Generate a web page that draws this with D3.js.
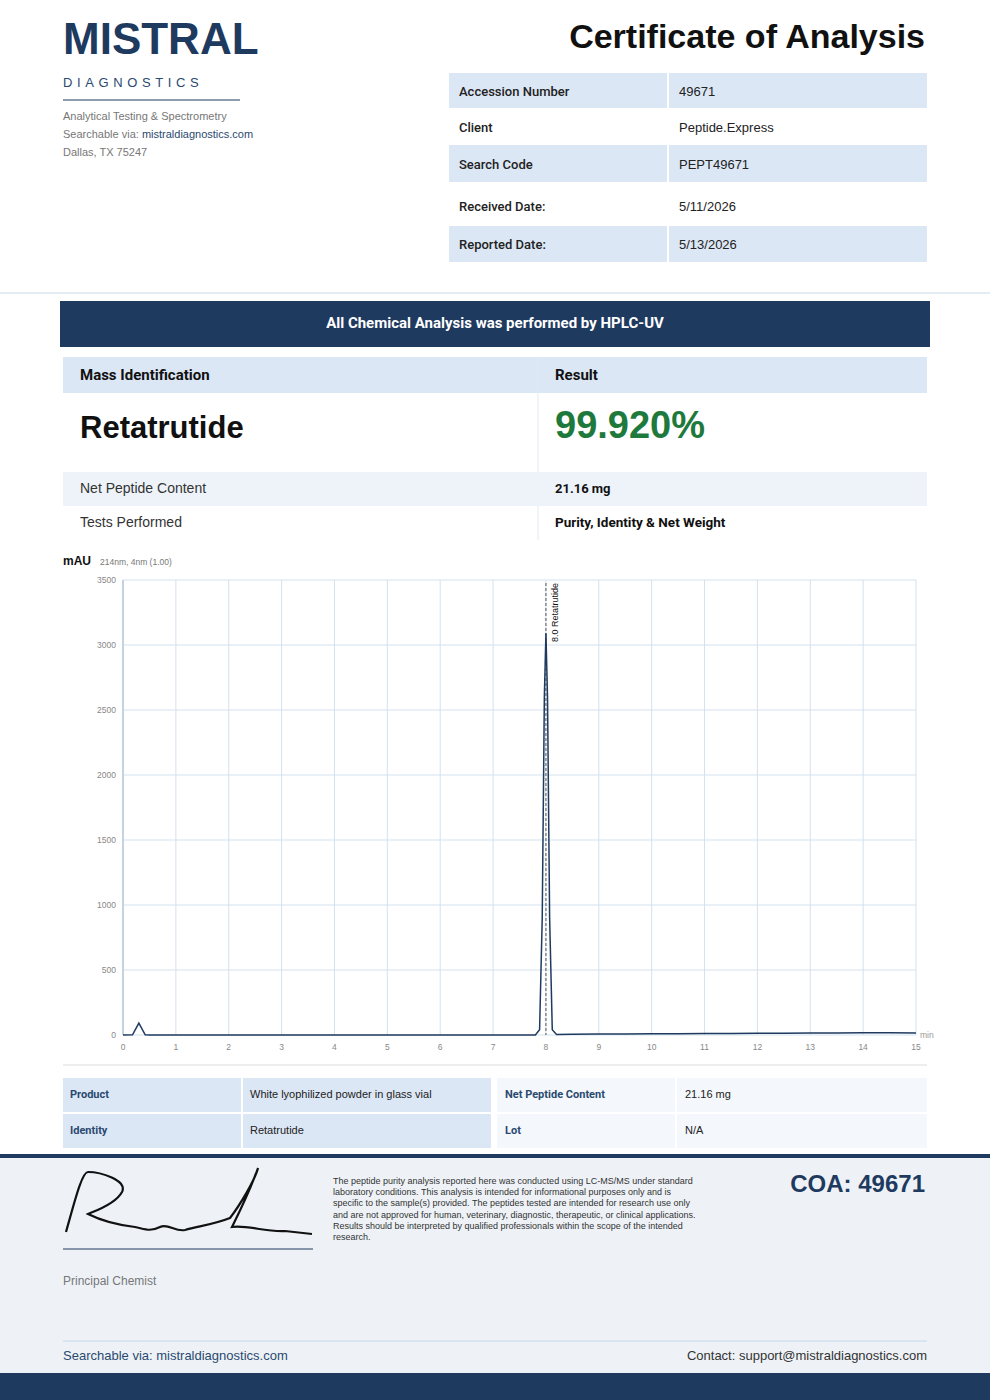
<!DOCTYPE html>
<html><head><meta charset="utf-8">
<script src="https://cdn.jsdelivr.net/npm/d3@7"></script>
<style>
body{margin:0;width:990px;height:1400px;background:#fff;font-family:"Liberation Sans",Arial,sans-serif;position:relative;overflow:hidden}
</style></head><body>
<svg id="svg" width="990" height="1400" style="position:absolute;left:0;top:0"></svg>
<script>
const xTicks=[0,1,2,3,4,5,6,7,8,9,10,11,12,13,14,15];
const yTicks=[0,500,1000,1500,2000,2500,3000,3500];
const times=[0,0.18,0.3,0.42,0.5,1,2,3,4,5,6,7,7.8,7.88,7.93,7.97,8.0,8.03,8.07,8.12,8.2,8.5,9,9.5,10,10.5,11,11.5,12,12.5,13,13.5,14,14.5,15];
const signal=[0,2,92,2,0,0,0,0,0,0,0,0,0,40,900,2600,3090,2600,900,40,4,6,7,8,9,10,11,12,13,14,15,16,17,17,16];
const peakLabel="8.0 Retatrutide";
const headerRows=[["Accession Number","49671"],["Client","Peptide.Express"],["Search Code","PEPT49671"],["Received Date:","5/11/2026"],["Reported Date:","5/13/2026"]];
const infoRows=[["Product","White lyophilized powder in glass vial","Net Peptide Content","21.16 mg"],["Identity","Retatrutide","Lot","N/A"]];

const svg=d3.select("#svg");
const navy="#1f3a5f", shade="#dce7f5";
function T(x,y,t,o={}){const e=svg.append("text").attr("x",x).attr("y",y).text(t)
 .attr("font-size",o.s||12).attr("fill",o.c||"#222").attr("font-weight",o.w||"normal")
 .attr("text-anchor",o.a||"start").attr("font-family",o.f||"Roboto, sans-serif");
 if(o.ls)e.attr("letter-spacing",o.ls);return e;}
function R(x,y,w,h,f){svg.append("rect").attr("x",x).attr("y",y).attr("width",w).attr("height",h).attr("fill",f);}
const A="Liberation Sans, Arial, sans-serif";
T(63,54,"MISTRAL",{s:44,w:"bold",c:navy,f:A});
T(63,87,"DIAGNOSTICS",{s:13,c:"#2a4a70",ls:4.6,f:A});
svg.append("line").attr("x1",63).attr("x2",240).attr("y1",100).attr("y2",100).attr("stroke",navy);
T(63,120,"Analytical Testing & Spectrometry",{s:11,c:"#777",f:A});
const sv=T(63,138,"Searchable via: ",{s:11,c:"#777",f:A});sv.append("tspan").attr("fill","#2a4a70").text("mistraldiagnostics.com");
T(63,156,"Dallas, TX 75247",{s:11,c:"#777",f:A});
T(925,48,"Certificate of Analysis",{s:34,w:"bold",c:"#111",a:"end",f:A});
const hy=[73,108,145,188,226],hh=[35,37,37,36,36];
headerRows.forEach((r,i)=>{ if(i%2==0)R(449,hy[i],478,hh[i],shade);
 svg.append("line").attr("x1",668).attr("x2",668).attr("y1",hy[i]).attr("y2",hy[i]+hh[i]).attr("stroke","#fff").attr("stroke-width",2);
 T(459,hy[i]+hh[i]/2+5,r[0],{s:13,w:500,c:"#222"});T(679,hy[i]+hh[i]/2+5,r[1],{s:13,c:"#222",f:A});});
svg.append("line").attr("x1",0).attr("x2",990).attr("y1",293).attr("y2",293).attr("stroke","#c8d8ea");
R(60,301,870,46,navy);T(495,328,"All Chemical Analysis was performed by HPLC-UV",{s:15,w:"bold",c:"#fff",a:"middle"});
R(63,357,864,36,shade);svg.append("line").attr("x1",538).attr("x2",538).attr("y1",357).attr("y2",540).attr("stroke","#e2e8f0");
T(80,380,"Mass Identification",{s:15,w:"bold",c:"#111"});T(555,380,"Result",{s:15,w:"bold",c:"#111"});
T(80,438,"Retatrutide",{s:31,w:"bold",c:"#111",f:A});T(555,438,"99.920%",{s:38,w:"bold",c:"#1e7a3c",f:A});
R(63,472,864,34,"#eef3fa");
T(80,493,"Net Peptide Content",{s:14,c:"#333",f:A});T(555,493,"21.16 mg",{s:13,w:"bold",c:"#111"});
T(80,527,"Tests Performed",{s:14,c:"#333",f:A});T(555,527,"Purity, Identity & Net Weight",{s:13.5,w:"bold",c:"#111"});
const x=d3.scaleLinear().domain([0,15]).range([123,916]);
const y=d3.scaleLinear().domain([0,3500]).range([1035,580]);
T(63,565,"mAU",{s:12,w:"bold",c:"#111",f:A});T(100,565,"214nm, 4nm (1.00)",{s:8.5,c:"#777",f:A});
const g=svg.append("g");
xTicks.forEach(t=>{g.append("line").attr("x1",x(t)).attr("x2",x(t)).attr("y1",580).attr("y2",1035).attr("stroke","#d3e1ee");
 T(x(t),1050,t,{s:8.5,c:"#888",a:"middle",f:A});});
yTicks.forEach(t=>{g.append("line").attr("x1",123).attr("x2",916).attr("y1",y(t)).attr("y2",y(t)).attr("stroke","#d3e1ee");
 T(116,y(t)+3,t,{s:8.5,c:"#888",a:"end",f:A});});
g.append("line").attr("x1",123).attr("x2",123).attr("y1",580).attr("y2",1035).attr("stroke","#b8c8d8").attr("stroke-width",1.5);
T(920,1038,"min",{s:8.5,c:"#999",f:A});
svg.append("line").attr("x1",x(8)).attr("x2",x(8)).attr("y1",583).attr("y2",1035).attr("stroke","#555").attr("stroke-dasharray","3,2");
svg.append("path").attr("d",d3.line().x((d,i)=>x(times[i])).y(d=>y(d))(signal)).attr("fill","none").attr("stroke",navy).attr("stroke-width",1.5);
T(0,0,peakLabel,{s:9,c:"#111",f:A}).attr("transform",`translate(${x(8)+12},642) rotate(-90)`);
svg.append("line").attr("x1",63).attr("x2",927).attr("y1",1065).attr("y2",1065).attr("stroke","#ddd");
infoRows.forEach((r,i)=>{const yy=[1078,1114][i];
 R(63,yy,178,34,shade);R(243,yy,248,34,shade);R(497,yy,178,34,"#f4f7fb");R(677,yy,250,34,"#f4f7fb");
 T(70,yy+20,r[0],{s:11,w:"bold",c:"#2a4a70"});T(250,yy+20,r[1],{s:11,c:"#222",f:A});
 T(505,yy+20,r[2],{s:11,w:"bold",c:"#2a4a70"});T(685,yy+20,r[3],{s:11,c:"#222",f:A});});
R(0,1154,990,246,"#eef2f7");R(0,1154,990,4,navy);R(0,1373,990,27,navy);
svg.append("path").attr("d","M66,1232 C75,1200 82,1172 88,1172 C100,1172 128,1180 122,1192 C115,1205 92,1212 88,1214 C100,1220 118,1225 135,1227 C145,1229 150,1232 160,1227 C168,1223 175,1232 185,1230 C200,1226 215,1224 230,1218 C240,1205 255,1180 258,1168 C252,1185 238,1215 232,1227 C248,1225 265,1232 285,1231 L312,1234")
 .attr("fill","none").attr("stroke","#111").attr("stroke-width",2.2);
svg.append("line").attr("x1",63).attr("x2",313).attr("y1",1249).attr("y2",1249).attr("stroke",navy);
T(63,1285,"Principal Chemist",{s:12,c:"#777",f:A});
["The peptide purity analysis reported here was conducted using LC-MS/MS under standard","laboratory conditions. This analysis is intended for informational purposes only and is","specific to the sample(s) provided. The peptides tested are intended for research use only","and are not approved for human, veterinary, diagnostic, therapeutic, or clinical applications.","Results should be interpreted by qualified professionals within the scope of the intended","research."].forEach((l,i)=>T(333,1184+i*11.2,l,{s:9,c:"#333",f:A}));
T(925,1192,"COA: 49671",{s:24,w:"bold",c:navy,a:"end",f:A});
svg.append("line").attr("x1",63).attr("x2",927).attr("y1",1341).attr("y2",1341).attr("stroke","#c8d8ea");
T(63,1360,"Searchable via: mistraldiagnostics.com",{s:13,c:"#2a4a70",f:A});
T(927,1360,"Contact: support@mistraldiagnostics.com",{s:13,c:"#333",a:"end",f:A});
</script></body></html>
